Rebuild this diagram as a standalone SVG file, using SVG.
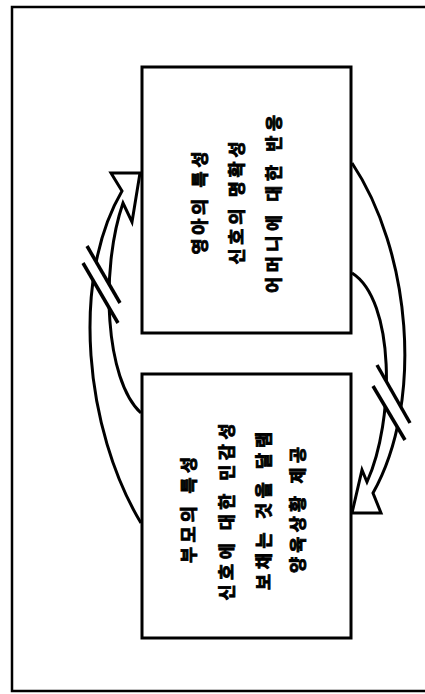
<svg xmlns="http://www.w3.org/2000/svg" width="425" height="694" viewBox="0 0 425 694">
<style>
.frame{fill:none;stroke:#000;stroke-width:2.5}
.box{fill:#fff;stroke:#000;stroke-width:3}
.lbl{font-family:"Noto Sans CJK KR","Noto Sans",sans-serif;font-size:17.5px;font-weight:bold;fill:#000;stroke:#000;stroke-width:0.9;text-anchor:middle}
.arc{fill:none;stroke:#000;stroke-width:3;stroke-linejoin:miter}
.mask{fill:#fff;stroke:none}
.slash{fill:none;stroke:#000;stroke-width:3.5}
</style>
<rect width="425" height="694" fill="#fff"/>
<path class="frame" d="M426,7 H12 V691 H426"/>
<g id="connectors">
  <g id="arrow-left">
    <path class="arc" d="M141,523 C85,430 70,280 122,191 L111,173 L140,173 L132,222 L123,203 C100,270 105,380 141,413"/>
    <polygon class="mask" points="88,250 118,301 116,320 84,266"/>
    <line class="slash" x1="87" y1="246" x2="120" y2="303"/>
    <line class="slash" x1="83" y1="263" x2="118" y2="323"/>
  </g>
  <g id="arrow-right">
    <path class="arc" d="M352,163 C410,250 425,400 373,493 L381,513 L352,513 L362,470 L367,482 C395,420 395,300 352,273"/>
    <polygon class="mask" points="379,368 409,420 404,437 375,389"/>
    <line class="slash" x1="377" y1="365" x2="410" y2="423"/>
    <line class="slash" x1="373" y1="386" x2="405" y2="440"/>
  </g>
</g>
<g id="node-infant">
  <rect class="box" x="142" y="67" width="209" height="266"/>
  <text class="lbl" transform="translate(199,203) rotate(-90)" y="6.5" textLength="103" lengthAdjust="spacing">영아의 특성</text>
  <text class="lbl" transform="translate(236,203) rotate(-90)" y="6.5" textLength="123" lengthAdjust="spacing">신호의 명확성</text>
  <text class="lbl" transform="translate(273,204) rotate(-90)" y="6.5" textLength="178" lengthAdjust="spacing">어머니에 대한 반응</text>
</g>
<g id="node-parent">
  <rect class="box" x="142" y="374" width="209" height="264"/>
  <text class="lbl" transform="translate(188,510) rotate(-90)" y="6.5" textLength="106" lengthAdjust="spacing">부모의 특성</text>
  <text class="lbl" transform="translate(226,512) rotate(-90)" y="6.5" textLength="177" lengthAdjust="spacing">신호에 대한 민감성</text>
  <text class="lbl" transform="translate(263,511) rotate(-90)" y="6.5" textLength="158" lengthAdjust="spacing">보채는 것을 달램</text>
  <text class="lbl" transform="translate(297,510) rotate(-90)" y="6.5" textLength="126" lengthAdjust="spacing">양육상황 제공</text>
</g>
</svg>
